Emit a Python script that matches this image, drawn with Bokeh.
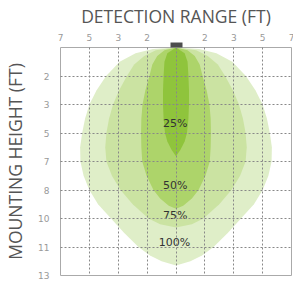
from bokeh.plotting import figure
from bokeh.models import Range1d, FixedTicker, LinearAxis
from bokeh.core.properties import value
from bokeh.embed import file_html
from bokeh.resources import INLINE

# Axis ticks (grid units) and their printed labels
x_ticks = [-4, -3, -2, -1, 0, 1, 2, 3, 4]
x_tick_labels = ["7", "5", "3", "2", "", "2", "3", "5", "7"]
y_ticks = [1, 2, 3, 4, 5, 6, 7, 8]
y_tick_labels = ["2", "3", "5", "7", "8", "10", "11", "13"]
sensor_x = [0]

# Coverage zones: depth below sensor and half-width at that depth (grid units)
depth_100 = [0, 0.05, 0.2, 0.5, 1.0, 1.5, 2.0, 2.5, 3.0, 3.5, 4.0, 4.5, 5.0, 5.5, 6.0, 6.5, 7.0, 7.3, 7.5, 7.65]
half_100 = [0, 0.8, 1.4, 1.95, 2.42, 2.75, 3.0, 3.15, 3.25, 3.32, 3.31, 3.2, 3.0, 2.7, 2.25, 1.8, 1.3, 0.9, 0.5, 0]
depth_75 = [0, 0.1, 0.3, 0.6, 1.0, 1.5, 2.0, 2.5, 3.0, 3.5, 4.0, 4.5, 5.0, 5.5, 6.0, 6.2, 6.32]
half_75 = [0, 0.7, 1.1, 1.45, 1.7, 1.97, 2.18, 2.32, 2.41, 2.45, 2.41, 2.22, 1.92, 1.5, 0.95, 0.55, 0]
depth_50 = [0, 0.1, 0.3, 0.6, 1.0, 1.5, 2.0, 2.5, 3.0, 3.5, 4.0, 4.5, 5.0, 5.3, 5.55, 5.66]
half_50 = [0, 0.4, 0.65, 0.82, 0.92, 1.06, 1.16, 1.2, 1.21, 1.2, 1.17, 1.02, 0.78, 0.55, 0.25, 0]
depth_25 = [0, 0.2, 0.5, 1.0, 1.5, 2.0, 2.5, 3.0, 3.3, 3.6, 3.82]
half_25 = [0, 0.3, 0.4, 0.43, 0.45, 0.45, 0.43, 0.38, 0.3, 0.15, 0]

zone_labels = ["100%", "75%", "50%", "25%"]
zone_label_x = [-0.05, -0.03, -0.03, -0.03]
zone_label_y = [6.84, 5.9, 4.85, 2.66]
zone_colors = ["#dfeec8", "#cbe3a2", "#add46a", "#8fc43c"]


def outline(depth, half):
    xs = [-w for w in reversed(half)] + list(half)
    ys = list(reversed(depth)) + list(depth)
    return xs, ys


zones = [outline(depth_100, half_100), outline(depth_75, half_75),
         outline(depth_50, half_50), outline(depth_25, half_25)]

p = figure(frame_width=231, frame_height=228, x_range=Range1d(-4, 4), y_range=Range1d(8, 0),
           x_axis_location="above", toolbar_location=None, output_backend="svg",
           min_border_left=51, min_border_right=3, min_border_top=38, min_border_bottom=6)
p.background_fill_color = "white"
p.border_fill_color = "white"
p.outline_line_color = "#aaaaaa"
p.outline_line_width = 1

p.patches(xs=[z[0] for z in zones], ys=[z[1] for z in zones],
          fill_color=zone_colors, line_color=None)

p.text(x=zone_label_x, y=zone_label_y, text=zone_labels, text_align="center",
       text_baseline="middle", text_font=value("DejaVu Sans"), text_font_size="11px",
       text_color="#333333")

for ax, ticks, labels in ((p.xaxis[0], x_ticks, x_tick_labels), (p.yaxis[0], y_ticks, y_tick_labels)):
    ax.ticker = FixedTicker(ticks=ticks)
    ax.major_label_overrides = {t: l for t, l in zip(ticks, labels)}
    ax.axis_line_color = None
    ax.major_tick_line_color = None
    ax.minor_tick_line_color = None
    ax.major_label_text_font = "DejaVu Sans"
    ax.major_label_text_font_size = "9px"
    ax.major_label_text_color = "#999999"
    ax.axis_label_text_font = "Open Sans"
    ax.axis_label_text_font_size = "17.5px"
    ax.axis_label_text_font_style = "normal"
    ax.axis_label_text_color = "#555555"

p.xaxis[0].axis_label = "DETECTION RANGE (FT)"
p.xaxis[0].major_label_standoff = -4
p.xaxis[0].axis_label_standoff = 3
p.yaxis[0].axis_label = "MOUNTING HEIGHT (FT)"
p.yaxis[0].major_label_standoff = 5
p.yaxis[0].axis_label_standoff = 8

# sensor block drawn as a wide tick on an inner top axis
sensor_axis = LinearAxis(ticker=FixedTicker(ticks=sensor_x), axis_line_color=None,
                         major_tick_in=0, major_tick_out=5, major_tick_line_width=12,
                         major_tick_line_color="#4d4d4d", minor_tick_line_color=None,
                         major_label_text_font_size="0px", major_label_standoff=0,
                         major_label_overrides={0: ""})
p.above = [sensor_axis] + list(p.above)

p.xgrid.ticker = FixedTicker(ticks=[-3, -2, -1, 0, 1, 2, 3])
p.ygrid.ticker = FixedTicker(ticks=[1, 2, 3, 4, 5, 6, 7])
for g in (p.xgrid[0], p.ygrid[0]):
    g.grid_line_color = "#888888"
    g.grid_line_dash = "2 2"
    g.grid_line_width = 1
    g.level = "overlay"

open("out.html", "w").write(file_html(p, INLINE))
